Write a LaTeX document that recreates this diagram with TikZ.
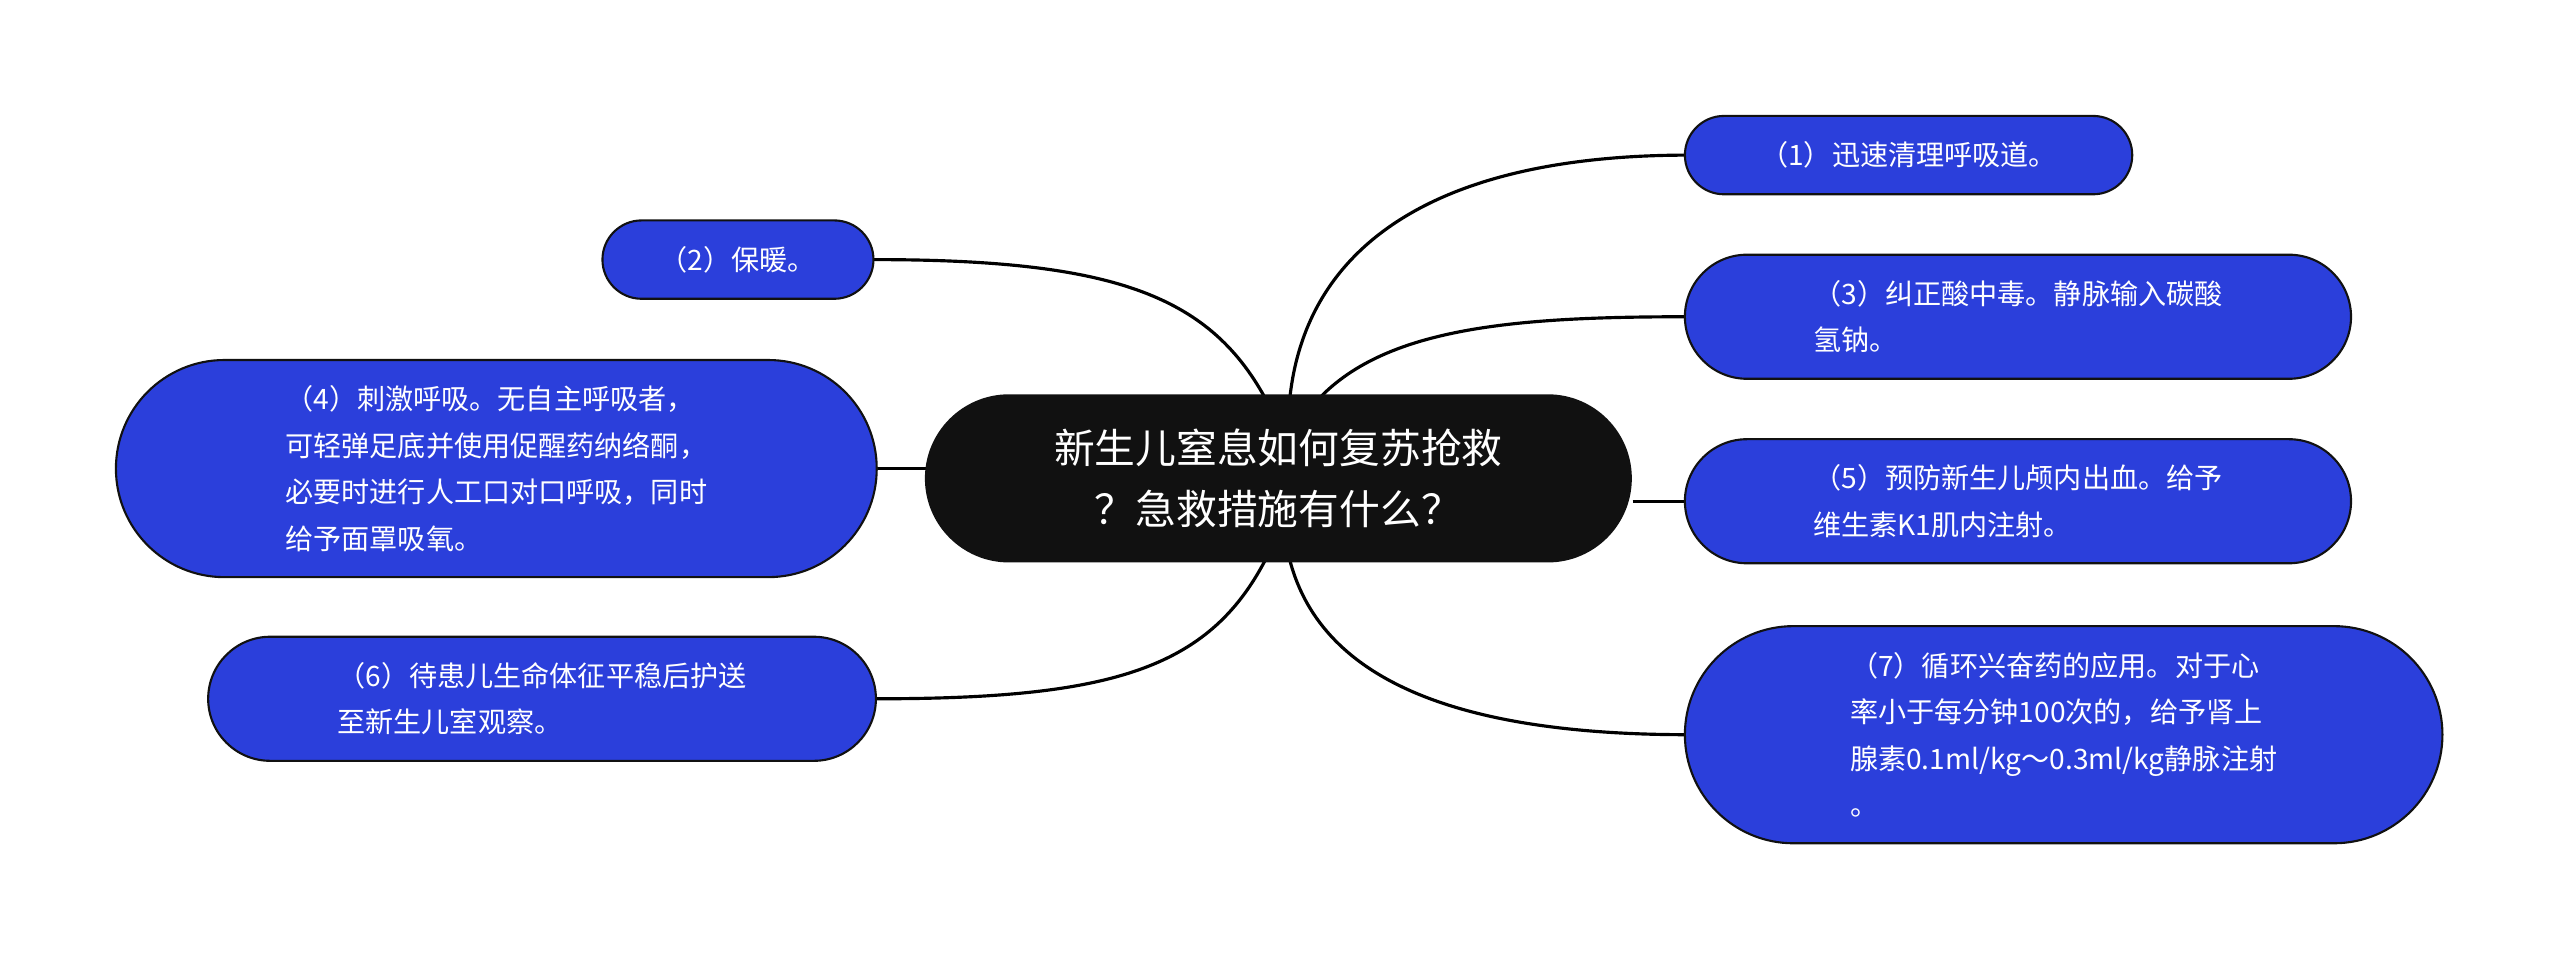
\documentclass[tikz,border=0pt]{standalone}
\usepackage{fontspec}
\setmainfont{Noto Sans CJK SC}
\usetikzlibrary{shapes.misc}
\definecolor{bl}{HTML}{2B3FDB}
\definecolor{dk}{HTML}{111111}
\begin{document}
\begin{tikzpicture}[x=0.016327cm,y=-0.016327cm,
  leaf/.style={rounded rectangle,fill=bl,draw=dk,line width=0.6pt,text=white,align=left,
    font=\fontsize{8}{13.2}\selectfont,inner sep=0pt},
  hub/.style={rounded rectangle,fill=dk,text=white,align=center,
    font=\fontsize{11.6}{17.2}\selectfont,inner sep=0pt,minimum width=433*0.016327cm,minimum height=103*0.016327cm},
  link/.style={draw=black,line width=0.9pt}]
\useasboundingbox (0,0) rectangle (1568,588);
\fill[white] (0,0) rectangle (1568,588);
% connectors first
\coordinate (c1) at (790,244);
\coordinate (c2) at (775,244);
\coordinate (c3) at (808,244);
\coordinate (c6) at (775,343);
\coordinate (c7) at (790,343);
\draw[link] (c1) .. controls (800,150) and (880,95) .. (1034,95);
\draw[link] (c2) .. controls (740,180) and (680,159) .. (535,159);
\draw[link] (c3) .. controls (850,200) and (930,194) .. (1034,194);
\draw[link] (567,287) -- (537,287);
\draw[link] (1000,307) -- (1034,307);
\draw[link] (c6) .. controls (740,410) and (680,428) .. (537,428);
\draw[link] (c7) .. controls (810,420) and (900,450) .. (1034,450);
\node[hub] (hub) at (783,293) {新生儿窒息如何复苏抢救\\？急救措施有什么？};
\node[leaf,minimum width=274*0.016327cm,minimum height=48*0.016327cm] (n1) at (1169,95) {（1）迅速清理呼吸道。};
\node[leaf,minimum width=166*0.016327cm,minimum height=48*0.016327cm] (n2) at (452,159) {（2）保暖。};
\node[leaf,minimum width=408*0.016327cm,minimum height=76*0.016327cm] (n3) at (1236,194) {（3）纠正酸中毒。静脉输入碳酸\\氢钠。};
\node[leaf,minimum width=466*0.016327cm,minimum height=133*0.016327cm] (n4) at (304,287) {（4）刺激呼吸。无自主呼吸者，\\可轻弹足底并使用促醒药纳络酮，\\必要时进行人工口对口呼吸，同时\\给予面罩吸氧。};
\node[leaf,minimum width=408*0.016327cm,minimum height=76*0.016327cm] (n5) at (1236,307) {（5）预防新生儿颅内出血。给予\\维生素K1肌内注射。};
\node[leaf,minimum width=409*0.016327cm,minimum height=76*0.016327cm] (n6) at (332,428) {（6）待患儿生命体征平稳后护送\\至新生儿室观察。};
\node[leaf,minimum width=464*0.016327cm,minimum height=133*0.016327cm] (n7) at (1264,450) {（7）循环兴奋药的应用。对于心\\率小于每分钟100次的，给予肾上\\腺素0.1ml/kg～0.3ml/kg静脉注射\\。};
\end{tikzpicture}
\end{document}
